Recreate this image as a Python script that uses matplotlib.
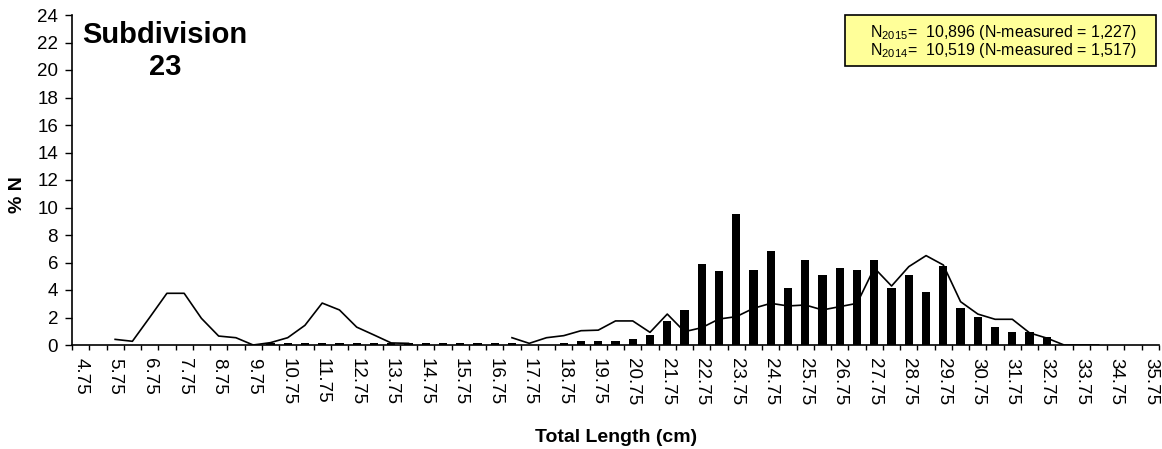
import matplotlib
matplotlib.use("Agg")
import matplotlib.pyplot as plt
import numpy as np
from matplotlib.patches import Rectangle

plt.rcParams['font.family'] = ['Liberation Sans', 'DejaVu Sans']
plt.rcParams['mathtext.fontset'] = 'custom'
plt.rcParams['mathtext.rm'] = 'Liberation Sans'
plt.rcParams['mathtext.it'] = 'Liberation Sans:italic'
plt.rcParams['mathtext.bf'] = 'Liberation Sans:bold'

lengths = [4.75, 5.25, 5.75, 6.25, 6.75, 7.25, 7.75, 8.25, 8.75, 9.25,
           9.75, 10.25, 10.75, 11.25, 11.75, 12.25, 12.75, 13.25, 13.75, 14.25,
           14.75, 15.25, 15.75, 16.25, 16.75, 17.25, 17.75, 18.25, 18.75, 19.25,
           19.75, 20.25, 20.75, 21.25, 21.75, 22.25, 22.75, 23.25, 23.75, 24.25,
           24.75, 25.25, 25.75, 26.25, 26.75, 27.25, 27.75, 28.25, 28.75, 29.25,
           29.75, 30.25, 30.75, 31.25, 31.75, 32.25, 32.75, 33.25, 33.75, 34.25,
           34.75, 35.25, 35.75]

pct_2015 = [0, 0, 0, 0, 0, 0, 0, 0, 0, 0,
            0, 0.15, 0.15, 0.15, 0.15, 0.15, 0.15, 0.15, 0.15, 0.12,
            0.12, 0.12, 0.12, 0.12, 0.12, 0.12, 0, 0, 0.15, 0.29,
            0.29, 0.29, 0.44, 0.70, 1.77, 2.57, 5.89, 5.36, 9.50, 5.48,
            6.84, 4.17, 6.16, 5.09, 5.62, 5.48, 6.16, 4.17, 5.09, 3.88,
            5.77, 2.69, 2.01, 1.33, 0.95, 0.95, 0.56, 0, 0, 0,
            0, 0, 0]

pct_2014 = [None, None, 0.41, 0.27, 2.0, 3.76, 3.76, 1.94, 0.65, 0.53,
            0.0, 0.17, 0.53, 1.43, 3.05, 2.55, 1.30, 0.73, 0.15, 0.12,
            None, None, None, None, None, 0.53, 0.12, 0.53, 0.68, 1.04,
            1.08, 1.75, 1.75, 0.92, 2.25, 0.97, 1.26, 1.89, 2.06, 2.67,
            3.03, 2.84, 2.91, 2.55, 2.79, 3.03, 5.60, 4.29, 5.70, 6.50,
            5.82, 3.15, 2.25, 1.87, 1.87, 0.88, 0.50, 0, 0, 0,
            None, None, None]

title_text = "Subdivision\n23"
legend_lines = [r"N$_{\mathregular{2015}}$=  10,896 (N-measured = 1,227)",
                r"N$_{\mathregular{2014}}$=  10,519 (N-measured = 1,517)"]

W, H = 1162, 449
fig = plt.figure(figsize=(W / 100, H / 100), dpi=100)
ax = fig.add_axes([72 / W, 1 - 345 / H, (1159 - 72) / W, (345 - 15) / H])

n = len(lengths)
x = np.arange(n)
ax.bar(x, pct_2015, width=0.48, color='black', zorder=2)
y14 = np.array([np.nan if v is None else v for v in pct_2014], dtype=float)
ax.plot(x, y14, color='black', lw=1.2, zorder=3)

ax.set_xlim(-0.5, n - 0.5)
ax.set_ylim(0, 24)
ax.set_yticks(np.arange(0, 25, 2))
ax.tick_params(axis='y', labelsize=13.5, direction='out', length=5, width=1, pad=5)

ax.set_xticks(np.arange(-0.5, n, 1.0))
ax.set_xticklabels([])
ax.tick_params(axis='x', which='major', direction='out', length=3.8, width=1)
ax.set_xticks(x[::2], minor=True)
ax.set_xticklabels([f"{v:.2f}" for v in lengths[::2]], minor=True, rotation=-90,
                   fontsize=13.5)
ax.tick_params(axis='x', which='minor', length=0, pad=9)

for s in ['top', 'right']:
    ax.spines[s].set_visible(False)
for s in ['left', 'bottom']:
    ax.spines[s].set_linewidth(1.2)

fig.text(17 / W, 1 - 195 / H, "% N", fontsize=14, fontweight='bold',
         rotation=90, ha='center', va='center')
fig.text(616 / W, 1 - 437 / H, "Total Length (cm)", fontsize=14,
         fontweight='bold', ha='center', va='center')

fig.text(165 / W, 1 - 51 / H, title_text, fontsize=21, fontweight='bold',
         ha='center', va='center', linespacing=1.2)

box = Rectangle((845 / W, 1 - 66 / H), (1156 - 845) / W, (66 - 15) / H,
                transform=fig.transFigure, facecolor='#FFFF99',
                edgecolor='black', lw=1.2)
fig.add_artist(box)
fig.text(870 / W, 1 - 32 / H, legend_lines[0], fontsize=11.5, ha='left', va='center')
fig.text(870 / W, 1 - 50 / H, legend_lines[1], fontsize=11.5, ha='left', va='center')

fig.savefig("out.png", dpi=100)
